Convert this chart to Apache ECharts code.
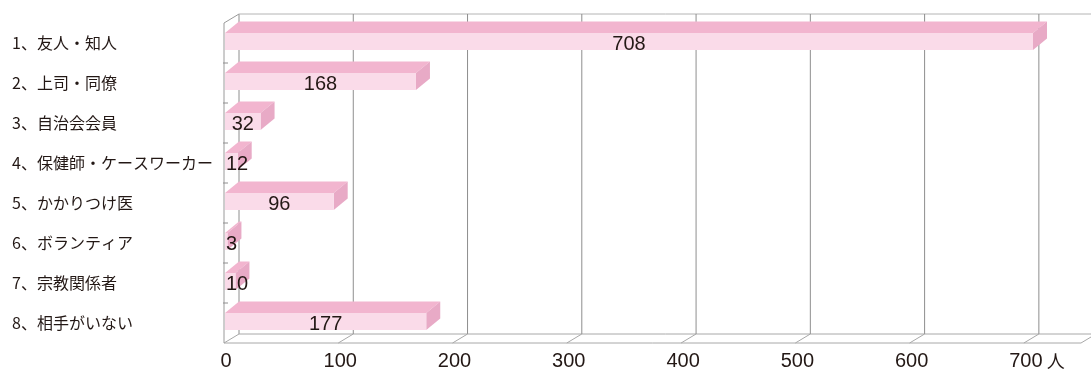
<!DOCTYPE html>
<html>
<head>
<meta charset="utf-8">
<title>相談相手</title>
<script src="https://cdn.jsdelivr.net/npm/echarts@6/dist/echarts.min.js"></script>
<style>
  html, body { margin: 0; padding: 0; background: #fff; }
  #main { width: 1091px; height: 369px; }
</style>
</head>
<body>
<div id="main"></div>
<script>
  // 回答項目
  var categories = ['1、友人・知人', '2、上司・同僚', '3、自治会会員', '4、保健師・ケースワーカー',
    '5、かかりつけ医', '6、ボランティア', '7、宗教関係者', '8、相手がいない'];
  // 人数
  var counts = [708, 168, 32, 12, 96, 3, 10, 177];
  // 目盛
  var xTicks = [0, 100, 200, 300, 400, 500, 600, 700];
  var unit = '人';

  // 奥行き（壁・床 / 棒）
  var DX = 15, DY = -9;
  var BDX = 14, BDY = -11.5;
  var FACE_H = 17;
  var TEXT = '#231815';
  var FONT = '"Noto Sans CJK JP", "Noto Sans", sans-serif';
  var NUM_FONT = '"Liberation Sans", Arial, sans-serif';

  var chart = echarts.init(document.getElementById('main'));

  function line(x1, y1, x2, y2, color) {
    return {
      type: 'line',
      shape: { x1: x1, y1: y1, x2: x2, y2: y2 },
      style: { stroke: color, lineWidth: 1 }
    };
  }

  // 背面の枠・目盛線
  function renderFrame(params, api) {
    var t = api.value(0);
    var band = api.size([0, 1])[1];
    var xf = api.coord([t, 0])[0];
    var top = api.coord([0, 0])[1] - band / 2;
    var bottom = api.coord([0, categories.length - 1])[1] + band / 2;
    var children = [
      line(xf + DX, top + DY, xf + DX, bottom + DY, '#8e8e8e'),
      line(xf + DX, bottom + DY, xf, bottom, '#a8a8a8')
    ];
    if (t === 0) {
      var xEnd = api.coord([750, 0])[0];
      children.push(
        line(xf, top, xf, bottom, '#9a9a9a'),
        line(xf, top, xf + DX, top + DY, '#9a9a9a'),
        line(xf + DX, top + DY, xEnd + DX, top + DY, '#b4b4b4'),
        line(xf, bottom, xEnd, bottom, '#a8a8a8'),
        line(xf + DX, bottom + DY, xEnd + DX, bottom + DY, '#a8a8a8'),
        line(xEnd, bottom, xEnd + DX, bottom + DY, '#a8a8a8')
      );
      for (var i = 1; i < categories.length; i++) {
        var yb = top + band * i;
        children.push(line(xf - 1, yb, xf + 4, yb, '#8e8e8e'));
      }
    }
    if (t === xTicks[xTicks.length - 1]) {
      children.push({
        type: 'text',
        style: {
          text: unit, x: xf + 32, y: bottom + 18,
          align: 'center', verticalAlign: 'middle',
          font: '18px ' + FONT, fill: TEXT
        }
      });
    }
    return { type: 'group', children: children };
  }

  // 立体棒
  function renderBar(params, api) {
    var cat = api.value(0), v = api.value(1);
    var p0 = api.coord([0, cat]);
    var p1 = api.coord([v, cat]);
    var x0 = p0[0] + 1, x1 = p1[0];
    var yc = p0[1] - 1.5;
    var yt = yc - FACE_H / 2, yb = yc + FACE_H / 2;
    var label = String(v);
    var lx = Math.max((x0 + x1) / 2, x0 + 1 + label.length * 5.5);
    return {
      type: 'group',
      children: [
        {
          type: 'polygon',
          shape: { points: [[x0, yt], [x1, yt], [x1 + BDX, yt + BDY], [x0 + BDX, yt + BDY]] },
          style: { fill: '#f2b5cf' }
        },
        {
          type: 'polygon',
          shape: { points: [[x1, yt], [x1 + BDX, yt + BDY], [x1 + BDX, yb + BDY], [x1, yb]] },
          style: { fill: '#e8aac6' }
        },
        {
          type: 'rect',
          shape: { x: x0, y: yt, width: x1 - x0, height: FACE_H },
          style: { fill: '#fadbe9' }
        },
        {
          type: 'text',
          style: {
            text: label, x: lx, y: yc + 2.5,
            align: 'center', verticalAlign: 'middle',
            font: '20px ' + NUM_FONT, fill: TEXT
          }
        }
      ]
    };
  }

  var option = {
    animation: false,
    textStyle: { fontFamily: FONT },
    grid: {
      left: 224, right: 10, top: 23, bottom: 26,
      containLabel: false, outerBoundsMode: 'none'
    },
    xAxis: {
      type: 'value',
      min: 0, max: 750, interval: 100,
      axisLine: { show: false },
      axisTick: { show: false },
      splitLine: { show: false },
      axisLabel: {
        color: TEXT, fontSize: 20, fontFamily: NUM_FONT, margin: 8,
        padding: [0, 0, 0, 4],
        formatter: function (v) { return v % 100 === 0 ? String(v) : ''; }
      }
    },
    yAxis: {
      type: 'category',
      inverse: true,
      data: categories,
      axisLine: { show: false },
      axisTick: { show: false },
      splitLine: { show: false },
      axisLabel: {
        color: TEXT, fontSize: 16, margin: 212, align: 'left',
        padding: [8, 0, 0, 0]
      }
    },
    series: [
      {
        type: 'custom',
        name: 'frame',
        z: 1,
        silent: true,
        clip: false,
        encode: { x: 0, y: 1 },
        data: xTicks.map(function (t) { return [t, 0]; }),
        renderItem: renderFrame
      },
      {
        type: 'custom',
        name: '人数',
        z: 2,
        clip: false,
        encode: { x: 1, y: 0 },
        data: counts.map(function (v, i) { return [i, v]; }),
        renderItem: renderBar
      }
    ]
  };

  chart.setOption(option);
</script>
</body>
</html>
